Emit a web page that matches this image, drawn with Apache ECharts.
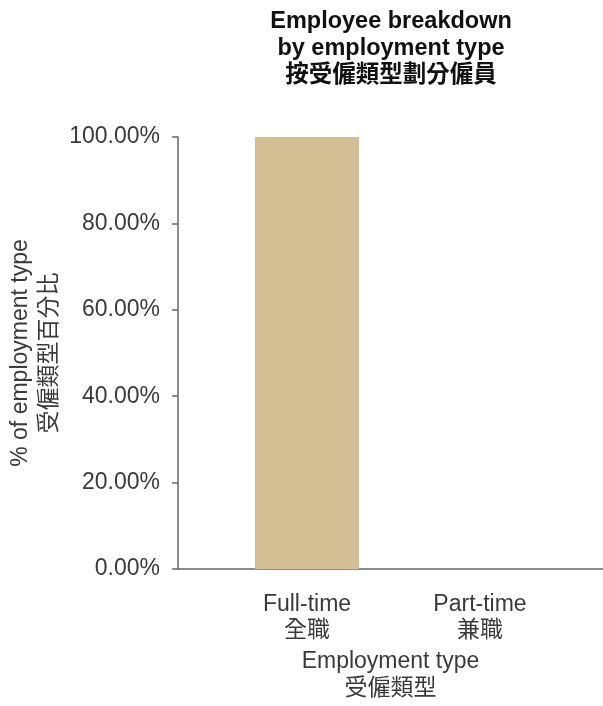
<!DOCTYPE html>
<html><head><meta charset="utf-8">
<script src="https://cdn.jsdelivr.net/npm/echarts@6/dist/echarts.min.js"></script>
<style>html,body{margin:0;padding:0;background:#fff}#c{width:603px;height:706px}</style>
</head><body><div id="c"></div>
<script>
const categories = ['Full-time\n全職', 'Part-time\n兼職'];
const values = [100, 0];
const yTicks = [0, 20, 40, 60, 80, 100];
const titleText = 'Employee breakdown\nby employment type\n按受僱類型劃分僱員';
const xName = 'Employment type\n受僱類型';
const yName = '% of employment type\n受僱類型百分比';

const FONT = '"Liberation Sans", Arial, "Noto Sans CJK TC", sans-serif';
const chart = echarts.init(document.getElementById('c'), null, {renderer: 'canvas'});
chart.setOption({
  backgroundColor: '#fff',
  animation: false,
  title: {
    text: titleText, left: 386, top: 3, textAlign: 'center',
    textStyle: {fontFamily: FONT, fontSize: 23.5, fontWeight: 'bold', color: '#111', lineHeight: 27}
  },
  grid: [
    {left: 220.5, width: 346, top: 137, height: 432, outerBoundsMode: 'none', containLabel: false},
    {left: 178, width: 425, top: 137, height: 432, outerBoundsMode: 'none', containLabel: false}
  ],
  xAxis: [
    {type: 'category', gridIndex: 0, data: categories,
     axisLine: {show: false}, axisTick: {show: false},
     axisLabel: {margin: 23, fontFamily: FONT, fontSize: 23, color: '#3a3a3a', lineHeight: 26}},
    {type: 'value', gridIndex: 1, min: 0, max: 1,
     axisLine: {show: true, lineStyle: {color: '#666', width: 1.5}}, axisTick: {show: false},
     axisLabel: {show: false}, splitLine: {show: false},
     name: xName, nameLocation: 'middle', nameGap: 79, nameMoveOverlap: false,
     nameTextStyle: {fontFamily: FONT, fontSize: 23, color: '#3a3a3a', lineHeight: 27}}
  ],
  yAxis: [
    {type: 'value', gridIndex: 0, min: 0, max: 100, show: false},
    {type: 'value', gridIndex: 1, min: 0, max: 100, interval: 20,
     axisLine: {show: true, lineStyle: {color: '#666', width: 1.5}},
     axisTick: {show: true, length: 6, lineStyle: {color: '#666', width: 1.5}},
     splitLine: {show: false},
     axisLabel: {margin: 18, fontFamily: FONT, fontSize: 23, color: '#3a3a3a',
       formatter: v => yTicks.includes(v) ? v.toFixed(2) + '%' : ''},
     name: yName, nameLocation: 'middle', nameGap: 114, nameRotate: 90, nameMoveOverlap: false,
     nameTextStyle: {fontFamily: FONT, fontSize: 23, color: '#3a3a3a', lineHeight: 29}}
  ],
  series: [{
    type: 'bar', xAxisIndex: 0, yAxisIndex: 0, data: values, barWidth: 104,
    itemStyle: {color: '#D4BE94'}
  }]
});
</script></body></html>
